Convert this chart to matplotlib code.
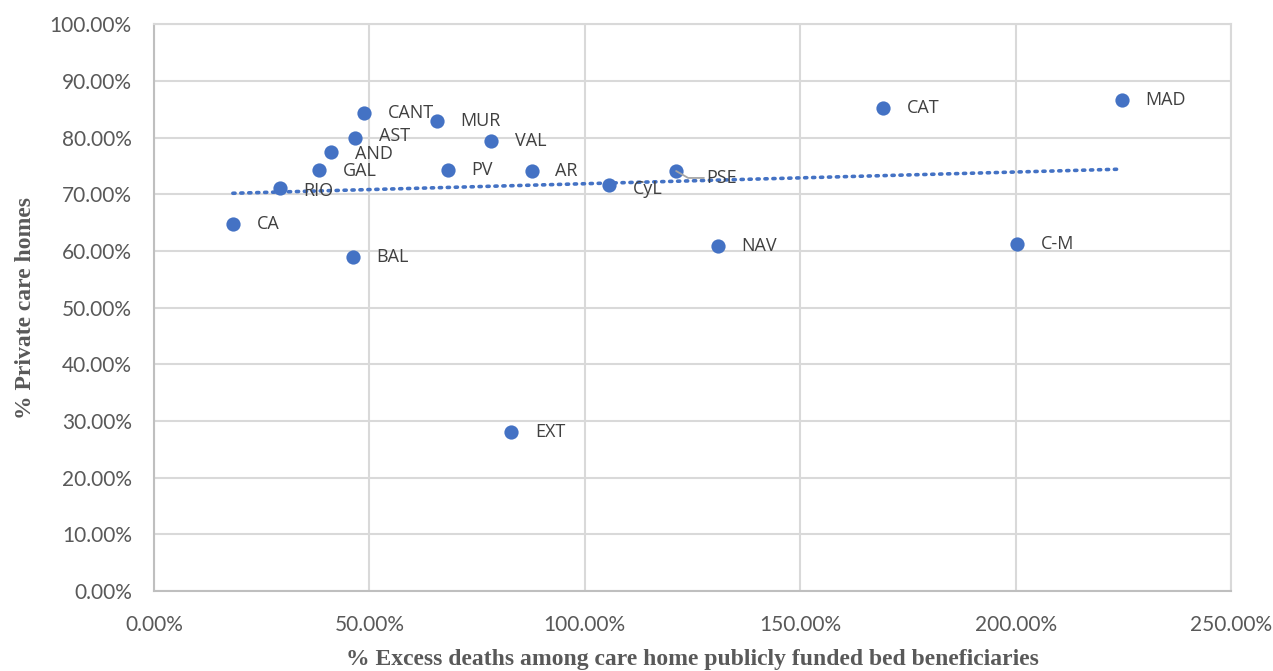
import numpy as np
import matplotlib
matplotlib.use('Agg')
from matplotlib import pyplot as plt
from matplotlib.ticker import FuncFormatter

regions = ['CA', 'RIO', 'GAL', 'AND', 'AST', 'CANT', 'BAL', 'MUR', 'VAL', 'PV',
           'AR', 'EXT', 'CyL', 'PSE', 'NAV', 'CAT', 'C-M', 'MAD']
excess_deaths = [18.3, 29.2, 38.3, 41.1, 46.7, 48.7, 46.2, 65.7, 78.2, 68.2,
                 87.7, 82.9, 105.6, 121.2, 130.9, 169.2, 200.3, 224.7]
private_homes = [64.8, 71.1, 74.3, 77.5, 79.9, 84.3, 59.0, 82.9, 79.4, 74.3,
                 74.1, 28.0, 71.7, 74.1, 60.9, 85.2, 61.3, 86.6]

# label offsets in points (dx, dy)
offsets = {'RIO': (17, -2), 'CyL': (17, -3), 'PSE': (22, -5),
           'AND': (17, -1.5), 'AST': (17, 1.5), 'GAL': (17, -0.5)}

blue = '#4472c4'
grid = '#d9d9d9'

fig = plt.figure(figsize=(12.73, 6.71), dpi=100)
ax = fig.add_axes([0.121, 0.119, 0.846, 0.845])

x = np.array(excess_deaths)
y = np.array(private_homes)

# linear trend line
k, b = np.polyfit(x, y, 1)
xt = np.array([x.min(), x.max()])
ax.plot(xt, k * xt + b, color=blue, linestyle=(0, (0.6, 1.6)), linewidth=2.6,
        dash_capstyle='round', zorder=2)

ax.scatter(x, y, s=105, color=blue, zorder=3, linewidths=0)

for name, xi, yi in zip(regions, x, y):
    dx, dy = offsets.get(name, (17, 0))
    kw = {}
    if name == 'PSE':
        kw['arrowprops'] = dict(arrowstyle='-', color='#a6a6a6', lw=1.3,
                                shrinkA=0, shrinkB=0,
                                connectionstyle='angle,angleA=0,angleB=-30,rad=0')
    ax.annotate(name, (xi, yi), xytext=(dx, dy), textcoords='offset points',
                fontsize=13, color='#404040', va='center', ha='left',
                family='Open Sans', zorder=4, **kw)

ax.set_xlim(0, 250)
ax.set_ylim(0, 100)
ax.set_xticks(np.arange(0, 251, 50))
ax.set_yticks(np.arange(0, 101, 10))
ax.xaxis.set_major_formatter(FuncFormatter(lambda v, p: f'{v:.2f}%'))
ax.yaxis.set_major_formatter(FuncFormatter(lambda v, p: f'{v:.2f}%'))
ax.grid(True, color=grid, linewidth=1.5)
ax.set_axisbelow(True)
for side, s in ax.spines.items():
    s.set_color('#bfbfbf' if side in ('left', 'bottom') else grid)
    s.set_linewidth(1.5)
ax.tick_params(length=0, labelsize=15, labelcolor='#595959')
ax.tick_params(axis='y', pad=16)
ax.tick_params(axis='x', pad=17)
for lab in ax.get_xticklabels() + ax.get_yticklabels():
    lab.set_family('Lato')

ax.set_xlabel('% Excess deaths among care home publicly funded bed beneficiaries',
              fontsize=17, fontweight='bold', color='#595959',
              family='Liberation Serif', labelpad=10)
ax.set_ylabel('% Private care homes', fontsize=17, fontweight='bold',
              color='#595959', family='Liberation Serif', labelpad=10)

fig.savefig('out.png', dpi=100)
